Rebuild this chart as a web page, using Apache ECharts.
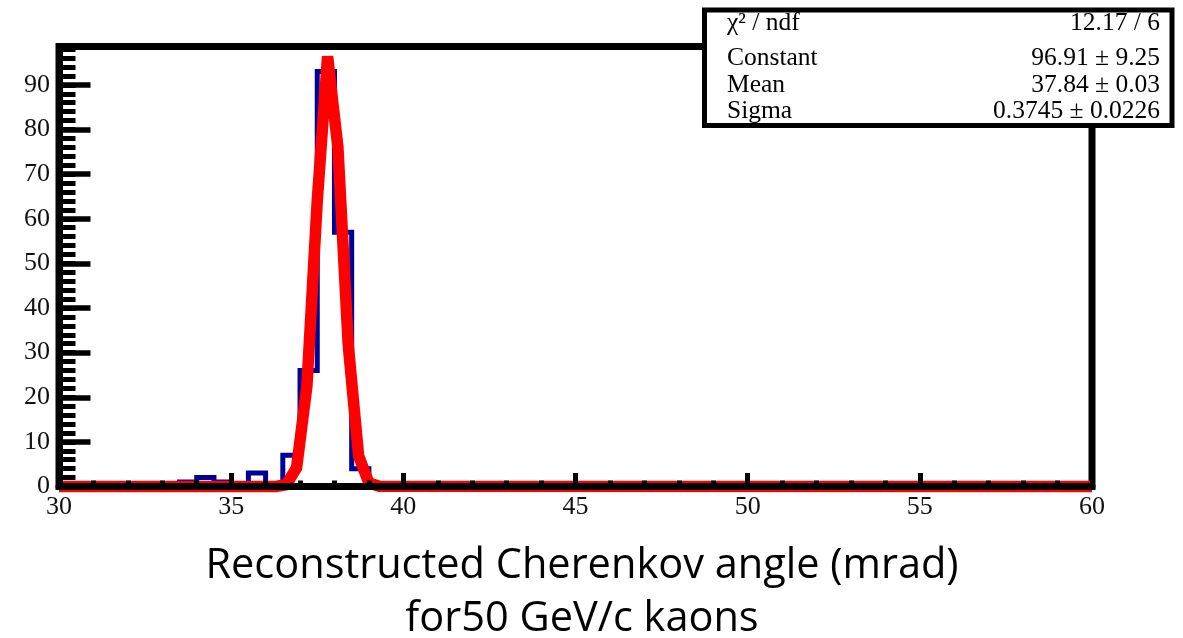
<!DOCTYPE html>
<html>
<head>
<meta charset="utf-8">
<script src="https://cdn.jsdelivr.net/npm/echarts@6/dist/echarts.min.js"></script>
<style>
html,body{margin:0;padding:0;background:#fff;}
#chart{width:1183px;height:638px;}
</style>
</head>
<body>
<div id="chart"></div>
<script>
// ---- data ----
const histMin = 30;
const binWidth = 0.5;
// 60 bins of 0.5 mrad from 30 to 60 (counts per bin)
const binCounts = [
  0,0,0,0,0,0,0,1,2,1,
  0,3,0,7,26,93,57,4,0,0,
  0,0,0,0,0,0,0,0,0,0,
  0,0,0,0,0,0,0,0,0,0,
  0,0,0,0,0,0,0,0,0,0,
  0,0,0,0,0,0,0,0,0,0
];
// Gaussian fit curve as drawn (x, value)
const fitX = [30, 36.3, 36.6, 36.9, 37.2, 37.5, 37.8, 38.1, 38.4, 38.7, 39.0, 39.3, 60];
const fitY = [0, 0, 0.4, 4.2, 22.5, 64, 96.4, 76, 31.7, 6.9, 0.8, 0.05, 0];
// stats box
const statsLabels = ['\u03C7\u00B2 / ndf', 'Constant', 'Mean', 'Sigma'];
const statsValues = ['12.17 / 6', '96.91 \u00B1 9.25', '37.84 \u00B1 0.03', '0.3745 \u00B1 0.0226'];
const titleLines = ['Reconstructed Cherenkov angle (mrad)', 'for50 GeV/c kaons'];
const xMin = 30, xMax = 60, xInterval = 5;
const yMin = 0, yMax = 98.6, yMajor = 10, yMinor = 2;

// ---- build series data ----
const histData = [];
for (let i = 0; i < binCounts.length; i++) {
  histData.push([histMin + i * binWidth, binCounts[i]]);
}
histData.push([histMin + binCounts.length * binWidth, binCounts[binCounts.length - 1]]);
const fitData = fitX.map((x, i) => [x, fitY[i]]);

const serif = '"Liberation Serif", "DejaVu Serif", serif';
const chart = echarts.init(document.getElementById('chart'), null, {renderer: 'canvas'});

const statsRowsY = [36.5, 71.5, 98, 124];
const graphics = [{
  type: 'rect', z: 100,
  shape: {x: 704.5, y: 10, width: 467.5, height: 115.5},
  style: {fill: '#fff', stroke: '#000', lineWidth: 5}
}];
statsLabels.forEach((t, i) => {
  graphics.push({type: 'text', z: 101, x: 727, y: statsRowsY[i],
    style: {text: t, font: '25.5px ' + serif, fill: '#000', textAlign: 'left', textVerticalAlign: 'bottom'}});
  graphics.push({type: 'text', z: 101, x: 1160, y: statsRowsY[i],
    style: {text: statsValues[i], font: '25.5px ' + serif, fill: '#000', textAlign: 'right', textVerticalAlign: 'bottom'}});
});
graphics.push({type: 'text', z: 101, x: 582, y: 566,
  style: {text: titleLines[0], font: '41.5px "Open Sans"', fill: '#000', textAlign: 'center', textVerticalAlign: 'middle'}});
graphics.push({type: 'text', z: 101, x: 582, y: 619,
  style: {text: titleLines[1], font: '41.5px "Open Sans"', fill: '#000', textAlign: 'center', textVerticalAlign: 'middle'}});

const option = {
  backgroundColor: '#fff',
  animation: false,
  grid: {left: 59, right: 91, top: 46.5, bottom: 151.5, show: true,
         borderColor: '#000', borderWidth: 7, backgroundColor: 'transparent'},
  xAxis: {
    type: 'value', min: xMin, max: xMax, interval: xInterval, z: 10,
    axisLine: {show: true, onZero: false, lineStyle: {color: '#000', width: 7}},
    axisTick: {show: true, inside: true, length: 13.5, lineStyle: {color: '#000', width: 5}},
    minorTick: {show: true, splitNumber: 5, length: 6, lineStyle: {color: '#000', width: 5}},
    axisLabel: {show: true, margin: 8, color: '#111', fontFamily: serif, fontSize: 26},
    splitLine: {show: false}
  },
  yAxis: [{
    type: 'value', min: yMin, max: yMax, interval: yMajor, z: 10,
    axisLine: {show: true, lineStyle: {color: '#000', width: 7}},
    axisTick: {show: true, inside: true, length: 31.5, lineStyle: {color: '#000', width: 5.5}},
    axisLabel: {show: true, margin: 9, color: '#111', fontFamily: serif, fontSize: 26, showMaxLabel: false},
    splitLine: {show: false}
  }, {
    type: 'value', min: yMin, max: yMax, interval: yMinor, position: 'left', z: 10,
    axisLine: {show: false},
    axisTick: {show: true, inside: true, length: 16.5, lineStyle: {color: '#000', width: 5}},
    axisLabel: {show: false},
    splitLine: {show: false}
  }],
  series: [{
    type: 'line', name: 'hist', data: histData, step: 'end', yAxisIndex: 0,
    symbol: 'none', clip: false, z: 2,
    lineStyle: {color: '#000099', width: 5, join: 'miter'}
  }, {
    type: 'line', name: 'fit', data: fitData, yAxisIndex: 0,
    symbol: 'none', clip: false, z: 3,
    lineStyle: {color: '#ff0000', width: 11.5, join: 'miter', miterLimit: 3.5, cap: 'butt'}
  }],
  graphic: graphics
};
chart.setOption(option);
</script>
</body>
</html>
